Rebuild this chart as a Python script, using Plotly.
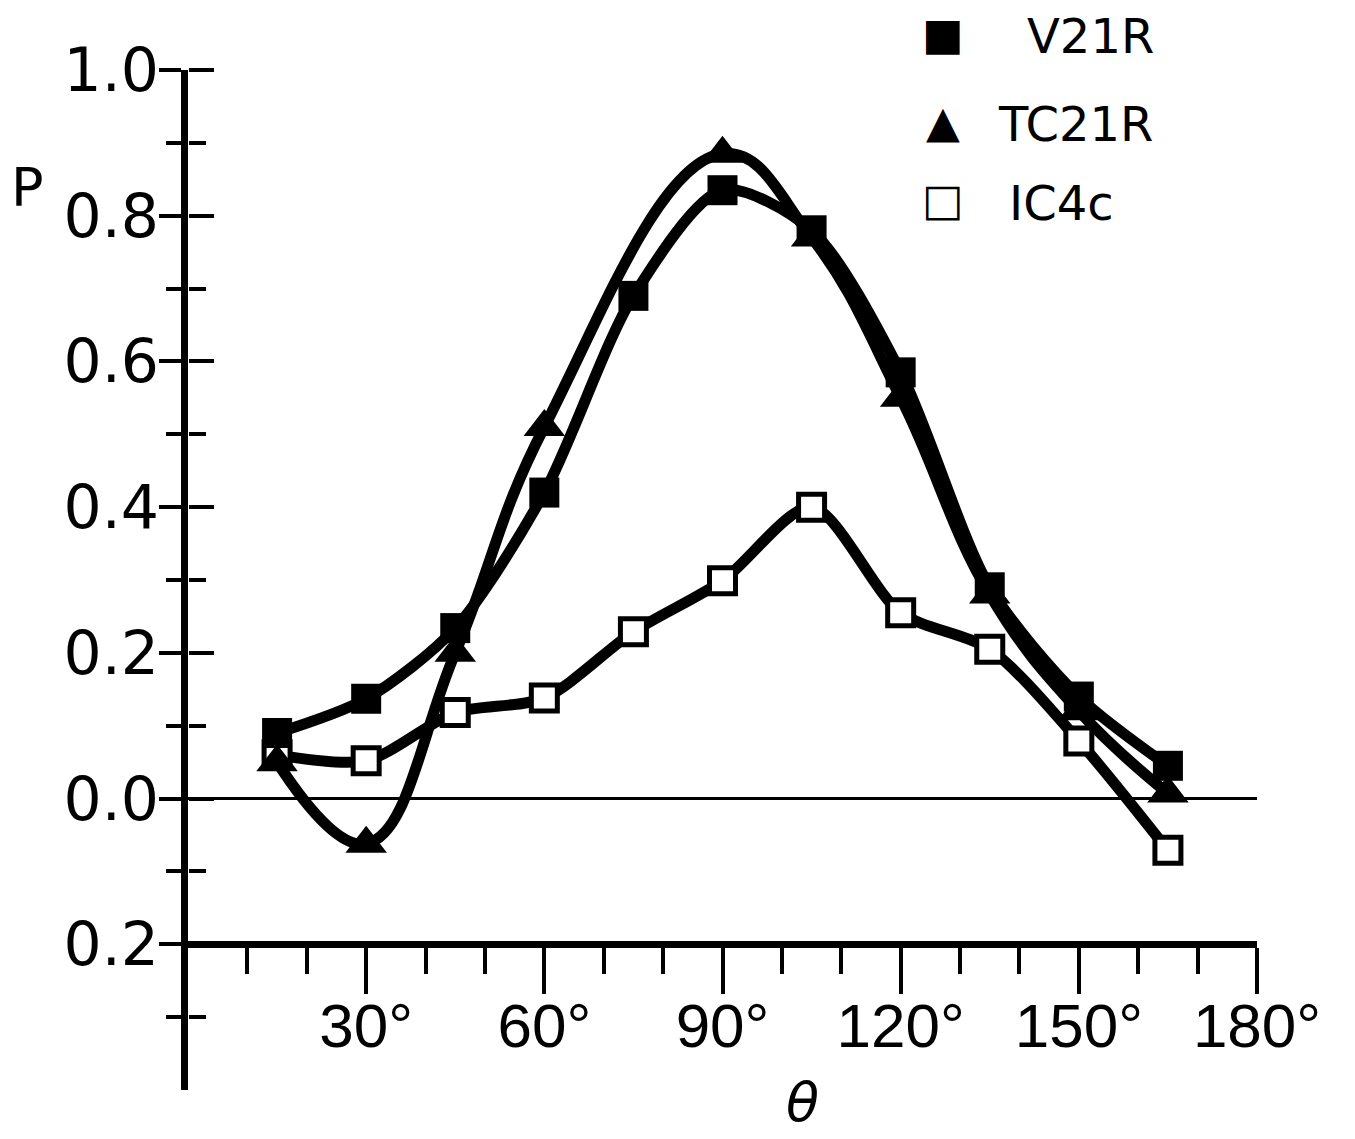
import plotly.graph_objects as go

# scattering angle (degrees) and polarization P
theta = [15, 30, 45, 60, 75, 90, 105, 120, 135, 150, 165]
p_v21r = [0.09, 0.137, 0.234, 0.42, 0.69, 0.835, 0.78, 0.585, 0.29, 0.14, 0.045]

theta_tc = [15, 30, 45, 60, 90, 105, 120, 135, 150, 165]
p_tc21r = [0.05, -0.062, 0.2, 0.51, 0.885, 0.77, 0.55, 0.28, 0.12, 0.007]

theta_ic = [15, 30, 45, 60, 75, 90, 105, 120, 135, 150, 165]
p_ic4c = [0.06, 0.052, 0.118, 0.138, 0.229, 0.299, 0.40, 0.255, 0.205, 0.079, -0.071]

x_ticks = [30, 60, 90, 120, 150, 180]
x_labels = ["30°", "60°", "90°", "120°", "150°", "180°"]
x_minor = [10, 20, 40, 50, 70, 80, 100, 110, 130, 140, 160, 170]

y_ticks = [-0.2, 0.0, 0.2, 0.4, 0.6, 0.8, 1.0]
y_labels = ["0.2", "0.0", "0.2", "0.4", "0.6", "0.8", "1.0"]
y_minor = [-0.3, -0.1, 0.1, 0.3, 0.5, 0.7, 0.9]

ink = "black"
y_range = [-0.4, 1.0]

fig = go.Figure()

fig.add_trace(go.Scatter(
    x=theta_ic, y=p_ic4c, name="IC4c", mode="lines+markers",
    line=dict(color=ink, width=11, shape="spline", smoothing=0.8),
    marker=dict(symbol="square", size=26, color="white",
                line=dict(color=ink, width=5)),
    showlegend=False))

fig.add_trace(go.Scatter(
    x=theta_tc, y=p_tc21r, name="TC21R", mode="lines+markers",
    line=dict(color=ink, width=11, shape="spline", smoothing=1.2),
    marker=dict(symbol="triangle-up", size=36, color=ink),
    showlegend=False))

# V21R sits on the overlay axis so it is drawn on top (and that axis supplies
# the right-hand half of the crossing y ticks)
fig.add_trace(go.Scatter(
    x=theta, y=p_v21r, name="V21R", mode="lines+markers", yaxis="y2",
    line=dict(color=ink, width=11, shape="spline", smoothing=0.8),
    marker=dict(symbol="square", size=30, color=ink),
    showlegend=False))

fig.update_layout(
    width=1355, height=1139,
    margin=dict(l=180, r=106, t=62, b=57, autoexpand=False),
    paper_bgcolor="white", plot_bgcolor="white",
    showlegend=False,
    xaxis=dict(
        range=[0, 180], anchor="free", position=0.2 / 1.4, automargin=False,
        showgrid=False, zeroline=False,
        showline=True, linecolor=ink, linewidth=7,
        ticks="outside", tickvals=x_ticks, ticktext=x_labels,
        ticklen=46, tickwidth=4, tickcolor=ink, ticklabelstandoff=-22,
        minor=dict(tickmode="array", tickvals=x_minor, ticks="outside",
                   ticklen=26, tickwidth=4, tickcolor=ink),
        tickfont=dict(family="Liberation Sans", size=62, color=ink),
    ),
    yaxis=dict(
        range=y_range, showgrid=False, automargin=False,
        zeroline=True, zerolinecolor=ink, zerolinewidth=3,
        showline=True, linecolor=ink, linewidth=7,
        ticks="outside", tickvals=y_ticks, ticktext=y_labels,
        ticklen=22, tickwidth=4, tickcolor=ink, ticklabelstandoff=-12,
        minor=dict(tickmode="array", tickvals=y_minor, ticks="outside",
                   ticklen=15, tickwidth=4, tickcolor=ink),
        tickfont=dict(family="DejaVu Sans", size=60, color=ink),
    ),
    yaxis2=dict(
        range=y_range, overlaying="y", anchor="free", position=0,
        side="right", automargin=False,
        showgrid=False, zeroline=False, showline=False,
        showticklabels=False,
        ticks="outside", tickvals=y_ticks, ticklen=25, tickwidth=4, tickcolor=ink,
        minor=dict(tickmode="array", tickvals=y_minor, ticks="outside",
                   ticklen=17, tickwidth=4, tickcolor=ink),
    ),
)

big = dict(family="DejaVu Sans", color=ink)
fig.add_annotation(text="P", x=-0.15, y=0.885, xref="paper", yref="paper",
                   xanchor="center", yanchor="middle",
                   showarrow=False, font=dict(size=54, **big))
fig.add_annotation(text="<i>θ</i>", x=0.575, y=-0.012, xref="paper", yref="paper",
                   xanchor="center", yanchor="middle",
                   showarrow=False, font=dict(size=54, **big))

# key, upper right
key_marks = ["■", "▲", "□"]
key_names = ["V21R", "TC21R", "IC4c"]
key_y = [1.036, 0.950, 0.873]
key_x = [0.844, 0.83, 0.817]
for mark, name, ky, kx in zip(key_marks, key_names, key_y, key_x):
    fig.add_annotation(text=mark, x=0.706, y=ky, xref="paper", yref="paper",
                       xanchor="center", yanchor="middle",
                       showarrow=False, font=dict(size=44, **big))
    fig.add_annotation(text=name, x=kx, y=ky - 0.003, xref="paper", yref="paper",
                       xanchor="center", yanchor="middle",
                       showarrow=False, font=dict(size=48, **big))

fig.write_html("out.html")
